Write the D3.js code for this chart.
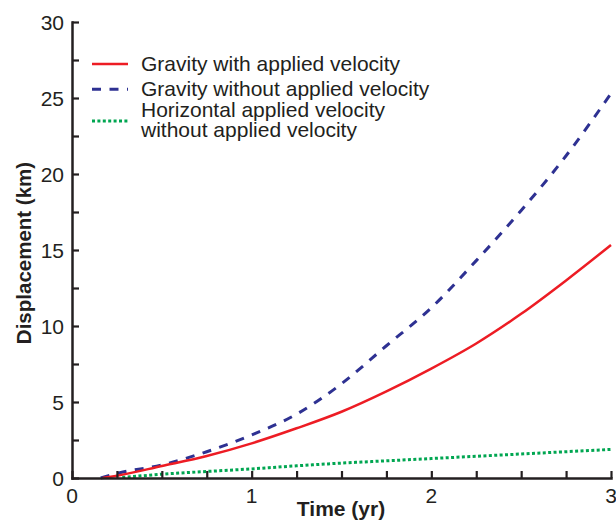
<!DOCTYPE html>
<html>
<head>
<meta charset="utf-8">
<script src="https://cdn.jsdelivr.net/npm/d3@7"></script>
<style>
  html, body { margin: 0; padding: 0; background: #fff; }
  svg { display: block; }
  text { font-family: Arial, "Liberation Sans", Helvetica, sans-serif; fill: #231f20; }
</style>
</head>
<body>
<svg id="chart" width="616" height="521"></svg>
<script>
// ---- Data ----
const timeRed   = [0.17, 0.25, 0.5, 0.75, 1.0, 1.25, 1.5, 1.75, 2.0, 2.25, 2.5, 2.75, 3.0];
const gravityWithVelocity = [0, 0.15, 0.79, 1.45, 2.28, 3.27, 4.36, 5.7, 7.2, 8.85, 10.8, 13.0, 15.33];

const timeBlue  = [0.16, 0.25, 0.5, 0.75, 1.0, 1.25, 1.5, 1.75, 2.0, 2.25, 2.5, 2.75, 3.0];
const gravityWithoutVelocity = [0, 0.3, 0.86, 1.73, 2.83, 4.2, 6.2, 8.7, 11.2, 14.3, 17.6, 21.2, 25.3];

const timeGreen = [0.28, 0.5, 0.75, 1.0, 1.25, 1.5, 1.75, 2.0, 2.25, 2.5, 2.75, 3.0];
const horizontalVelocity = [0.03, 0.25, 0.43, 0.6, 0.8, 0.98, 1.13, 1.28, 1.43, 1.58, 1.73, 1.88];

const xMajorTicks = [0, 1, 2, 3];
const xMinorTicks = [0.25, 0.5, 0.75, 1.25, 1.5, 1.75, 2.25, 2.5, 2.75];
const yMajorTicks = [0, 5, 10, 15, 20, 25, 30];
const yMinorTicks = [2.5, 7.5, 12.5, 17.5, 22.5, 27.5];

const seriesNames = ["Gravity with applied velocity", "Gravity without applied velocity", "Horizontal applied velocity|without applied velocity"];
const xTitle = "Time (yr)";
const yTitle = "Displacement (km)";

// ---- Layout ----
const svg = d3.select("#chart");
const x = d3.scaleLinear().domain([0, 3]).range([72, 611]);
const y = d3.scaleLinear().domain([0, 30]).range([478, 22]);
const axisColor = "#231f20";
const colors = ["#ed1c24", "#2e3192", "#00a651"];
const dashes = [null, "9,8.5", "3,2.4"];
const widths = [2.5, 3, 3];

// Series lines
const series = [
  { t: timeRed, v: gravityWithVelocity },
  { t: timeBlue, v: gravityWithoutVelocity },
  { t: timeGreen, v: horizontalVelocity }
];
const line = d3.line().x(d => x(d[0])).y(d => y(d[1])).curve(d3.curveMonotoneX);

// draw green, then blue, then red on top
[2, 1, 0].forEach(i => {
  const s = series[i];
  const pts = s.t.map((t, k) => [t, s.v[k]]);
  svg.append("path")
    .attr("d", line(pts))
    .attr("fill", "none")
    .attr("stroke", colors[i])
    .attr("stroke-width", widths[i])
    .attr("stroke-dasharray", dashes[i]);
});

// Axes (ticks inward)
const fs = 21;
const xAxis = d3.axisBottom(x).tickValues(xMajorTicks.concat(xMinorTicks)).tickSizeInner(-7).tickSizeOuter(0).tickFormat("");
const gx = svg.append("g").attr("transform", "translate(0,478)").call(xAxis);
const yAxis = d3.axisLeft(y).tickValues(yMajorTicks.concat(yMinorTicks)).tickSizeInner(-7).tickSizeOuter(0).tickFormat("");
const gy = svg.append("g").attr("transform", "translate(72,0)").call(yAxis);
[gx, gy].forEach(g => {
  g.select(".domain").attr("stroke", axisColor).attr("stroke-width", 2.5);
  g.selectAll(".tick line").attr("stroke", axisColor).attr("stroke-width", 2.2);
});
// extend domain corners for clean joint
gx.select(".domain").attr("stroke-linecap", "square");
gy.select(".domain").attr("stroke-linecap", "square");

// Tick labels
svg.append("g").selectAll("text").data(xMajorTicks).join("text")
  .attr("x", d => x(d)).attr("y", 503)
  .attr("text-anchor", "middle").attr("font-size", fs)
  .text(d => d);
svg.append("g").selectAll("text").data(yMajorTicks).join("text")
  .attr("x", 64).attr("y", d => y(d) + 7.5)
  .attr("text-anchor", "end").attr("font-size", fs)
  .text(d => d);

// Axis titles
svg.append("text").attr("x", 341).attr("y", 516)
  .attr("text-anchor", "middle").attr("font-size", fs).attr("font-weight", "bold")
  .text(xTitle);
svg.append("text").attr("transform", "translate(31,253) rotate(-90)")
  .attr("text-anchor", "middle").attr("font-size", 20.5).attr("font-weight", "bold")
  .text(yTitle);

// Legend
const legendLineY = [64, 89.3, 121];
const legendTextY = [[71], [95.5], [117, 137]];
const lg = svg.append("g");
seriesNames.forEach((name, i) => {
  lg.append("line")
    .attr("x1", 92).attr("x2", 128)
    .attr("y1", legendLineY[i]).attr("y2", legendLineY[i])
    .attr("stroke", colors[i]).attr("stroke-width", widths[i])
    .attr("stroke-dasharray", dashes[i]);
  name.split("|").forEach((part, j) => {
    lg.append("text").attr("x", 141).attr("y", legendTextY[i][j])
      .attr("font-size", fs).text(part);
  });
});
</script>
</body>
</html>
